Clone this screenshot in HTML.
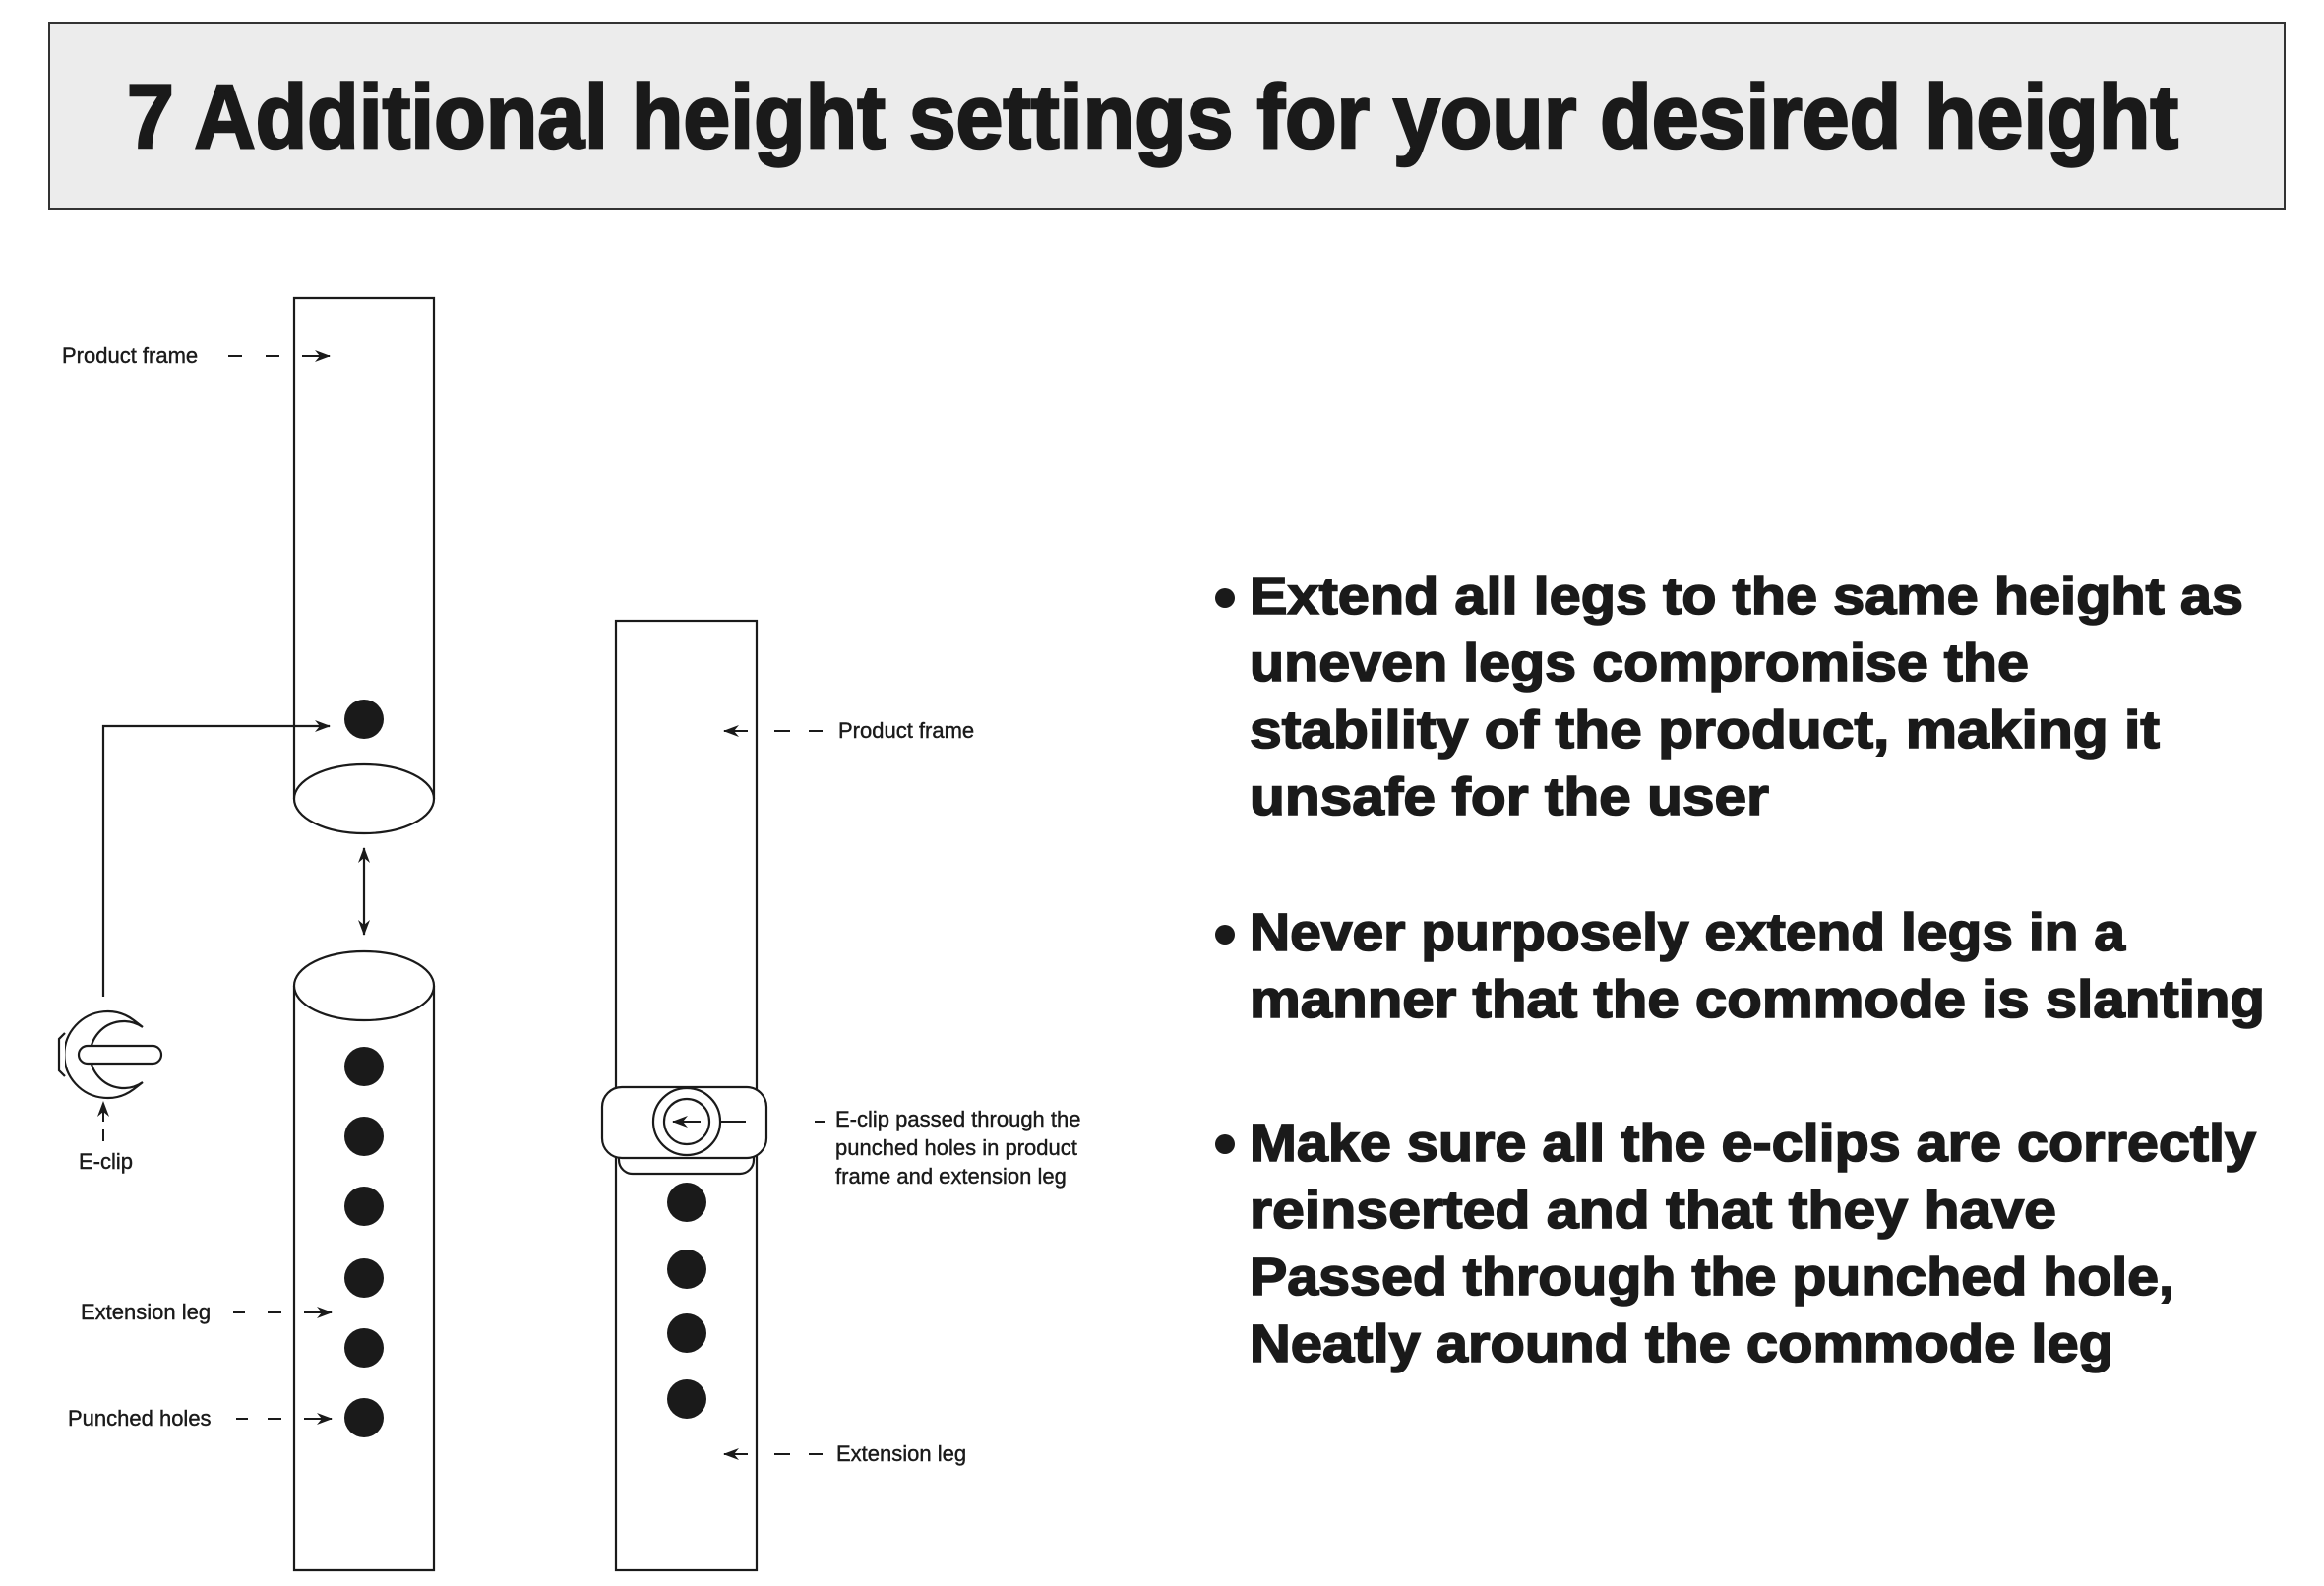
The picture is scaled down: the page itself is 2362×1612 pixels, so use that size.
<!DOCTYPE html>
<html><head><meta charset="utf-8"><style>
html,body{margin:0;padding:0;background:#fff;}
svg{display:block;}
text{font-family:"Liberation Sans",sans-serif;fill:#1a1a1a;}
.t{font-weight:bold;font-size:54px;stroke:#1a1a1a;stroke-width:1.6px;}
.s{font-size:22px;stroke:#1a1a1a;stroke-width:0.4px;}
</style></head><body>
<svg width="2362" height="1612" viewBox="0 0 2362 1612" xmlns="http://www.w3.org/2000/svg">
<defs>
<marker id="ah" markerWidth="16" markerHeight="12" refX="15" refY="6" orient="auto-start-reverse" markerUnits="userSpaceOnUse">
<path d="M0,0 L16,6 L0,12 L5,6 Z" fill="#1a1a1a"/>
</marker>
</defs>
<rect x="50" y="23" width="2272" height="189" fill="#ececec" stroke="#333" stroke-width="2"/>
<text x="129" y="150" font-weight="bold" font-size="92" textLength="2085" lengthAdjust="spacingAndGlyphs" stroke="#1a1a1a" stroke-width="2.5">7 Additional height settings for your desired height</text>

<g fill="none" stroke="#1a1a1a" stroke-width="2.2">
<path d="M299,812 L299,303 L441,303 L441,812"/>
<ellipse cx="370" cy="812" rx="71" ry="35" fill="#fff"/>
<path d="M299,1002 L299,1596 L441,1596 L441,1002"/>
<ellipse cx="370" cy="1002" rx="71" ry="35" fill="#fff"/>
<line x1="370" y1="862" x2="370" y2="950" marker-start="url(#ah)" marker-end="url(#ah)"/>
<path d="M105,1013 L105,738 L335,738" marker-end="url(#ah)"/>
<rect x="626" y="631" width="143" height="965"/>
</g>
<g fill="#1a1a1a">
<circle cx="370" cy="731" r="20"/>
<circle cx="370" cy="1084" r="20"/><circle cx="370" cy="1155" r="20"/><circle cx="370" cy="1226" r="20"/>
<circle cx="370" cy="1299" r="20"/><circle cx="370" cy="1370" r="20"/><circle cx="370" cy="1441" r="20"/>
<circle cx="698" cy="1222" r="20"/><circle cx="698" cy="1290" r="20"/><circle cx="698" cy="1355" r="20"/><circle cx="698" cy="1422" r="20"/>
</g>

<g fill="#fff" stroke="#1a1a1a" stroke-width="2.2">
<path d="M136,1037 A44,44 0 1 0 136,1107 L145,1100 A34,34 0 1 1 145,1044 Z"/>
<path d="M66,1050 L60,1056 L60,1088 L66,1094"/>
<rect x="80" y="1063" width="84" height="18" rx="9"/>
</g>
<line x1="105" y1="1160" x2="105" y2="1120" stroke="#1a1a1a" stroke-width="2" stroke-dasharray="12,8" marker-end="url(#ah)"/>
<text class="s" x="80" y="1188">E-clip</text>

<text class="s" x="63" y="369">Product frame</text>
<path d="M232,362 H246 M270,362 H284 M307,362 H335" stroke="#1a1a1a" stroke-width="2" marker-end="url(#ah)"/>
<text class="s" x="82" y="1341">Extension leg</text>
<path d="M237,1334 H249 M272,1334 H286 M309,1334 H337" stroke="#1a1a1a" stroke-width="2" marker-end="url(#ah)"/>
<text class="s" x="69" y="1449">Punched holes</text>
<path d="M240,1442 H252 M272,1442 H286 M309,1442 H337" stroke="#1a1a1a" stroke-width="2" marker-end="url(#ah)"/>

<g stroke="#1a1a1a" stroke-width="2.2" fill="#fff">
<rect x="629" y="1146" width="137" height="47" rx="14"/>
<rect x="612" y="1105" width="167" height="72" rx="20"/>
<circle cx="698" cy="1140" r="34"/>
<circle cx="698" cy="1140" r="23"/>
</g>
<line x1="712" y1="1140" x2="684" y2="1140" stroke="#1a1a1a" stroke-width="2" marker-end="url(#ah)"/>
<path d="M732,1140 H758 M828,1140 H838" stroke="#1a1a1a" stroke-width="2"/>
<text class="s" x="849" y="1145">E-clip passed through the</text>
<text class="s" x="849" y="1174">punched holes in product</text>
<text class="s" x="849" y="1203">frame and extension leg</text>

<path d="M836,743 H822 M803,743 H787 M760,743 H736" stroke="#1a1a1a" stroke-width="2" marker-end="url(#ah)"/>
<text class="s" x="852" y="750">Product frame</text>
<path d="M836,1478 H822 M803,1478 H787 M760,1478 H736" stroke="#1a1a1a" stroke-width="2" marker-end="url(#ah)"/>
<text class="s" x="850" y="1485">Extension leg</text>

<g fill="#1a1a1a">
<circle cx="1245" cy="608" r="10"/>
<circle cx="1245" cy="950" r="10"/>
<circle cx="1245" cy="1163" r="10"/>
</g>
<text class="t" x="1270" y="624" textLength="1010" lengthAdjust="spacingAndGlyphs">Extend all legs to the same height as</text>
<text class="t" x="1270" y="692" textLength="792" lengthAdjust="spacingAndGlyphs">uneven legs compromise the</text>
<text class="t" x="1270" y="760" textLength="925" lengthAdjust="spacingAndGlyphs">stability of the product, making it</text>
<text class="t" x="1270" y="828" textLength="528" lengthAdjust="spacingAndGlyphs">unsafe for the user</text>
<text class="t" x="1270" y="966" textLength="890" lengthAdjust="spacingAndGlyphs">Never purposely extend legs in a</text>
<text class="t" x="1270" y="1034" textLength="1032" lengthAdjust="spacingAndGlyphs">manner that the commode is slanting</text>
<text class="t" x="1270" y="1180" textLength="1023" lengthAdjust="spacingAndGlyphs">Make sure all the e-clips are correctly</text>
<text class="t" x="1270" y="1248" textLength="820" lengthAdjust="spacingAndGlyphs">reinserted and that they have</text>
<text class="t" x="1270" y="1316" textLength="940" lengthAdjust="spacingAndGlyphs">Passed through the punched hole,</text>
<text class="t" x="1270" y="1384" textLength="878" lengthAdjust="spacingAndGlyphs">Neatly around the commode leg</text>
</svg>
</body></html>
